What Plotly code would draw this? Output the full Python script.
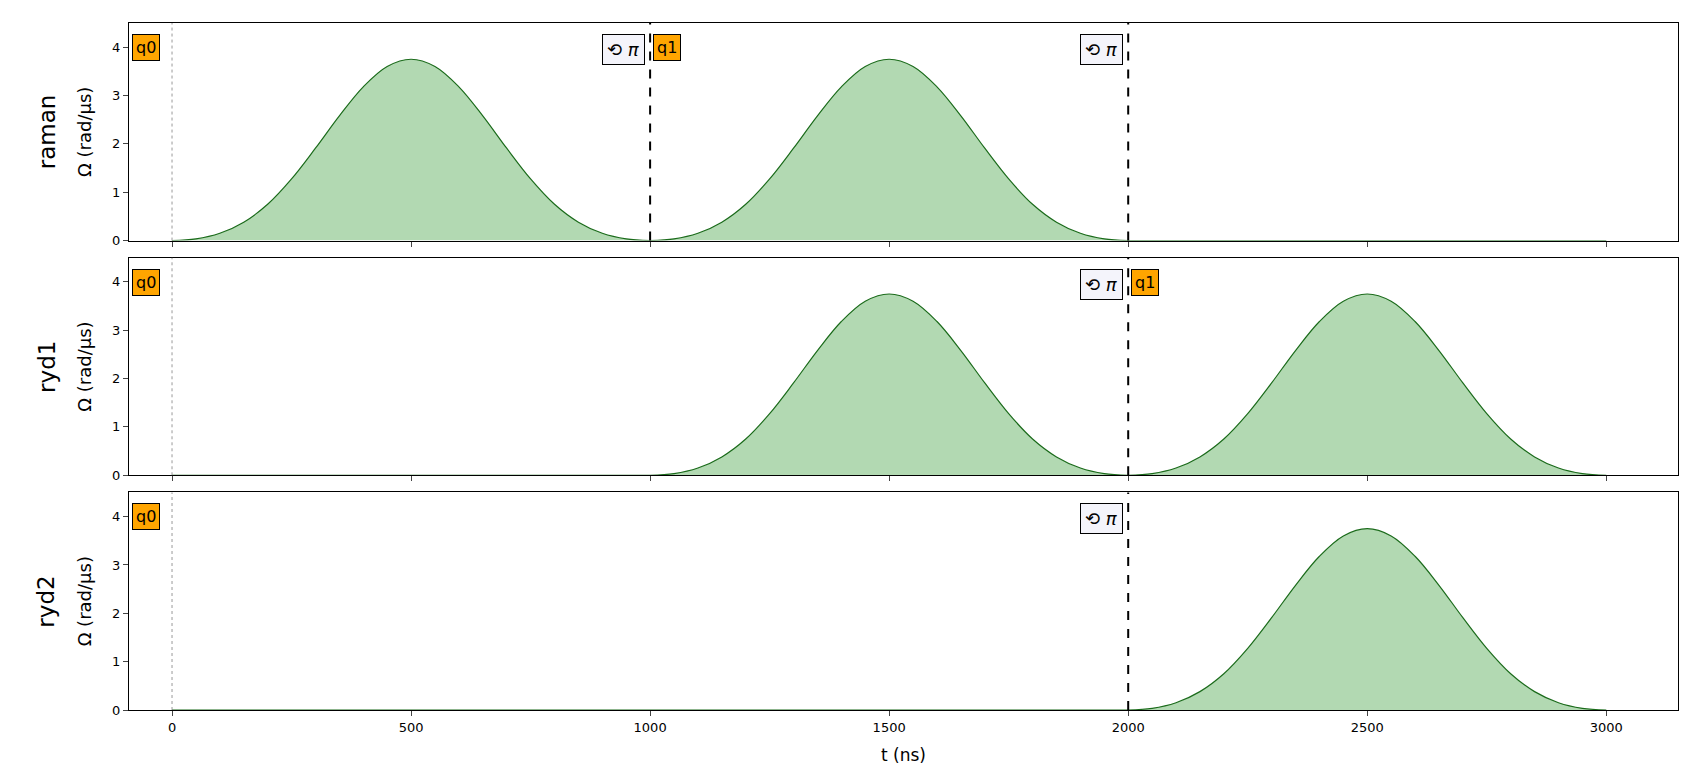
import plotly.graph_objects as go
from plotly.subplots import make_subplots

channels = ["raman", "ryd1", "ryd2"]
pulse_offsets = [0, 50, 100, 150, 200, 250, 300, 350, 400, 450, 500, 550, 600, 650, 700, 750, 800, 850, 900, 950, 1000]
pulse_values = [0.0, 0.035, 0.15, 0.38, 0.75, 1.275, 1.91, 2.58, 3.18, 3.60, 3.75, 3.60, 3.18, 2.58, 1.91, 1.275, 0.75, 0.38, 0.15, 0.035, 0.0]
pulse_starts = {"raman": [0, 1000], "ryd1": [1000, 2000], "ryd2": [2000]}
seq_end = 3000
target_marks = {"raman": [(0, "q0"), (1000, "q1")], "ryd1": [(0, "q0"), (2000, "q1")], "ryd2": [(0, "q0")]}
phase_marks = {"raman": [1000, 2000], "ryd1": [2000], "ryd2": [2000]}

fig = make_subplots(rows=3, cols=1, shared_xaxes=False, vertical_spacing=0.025)
green = "#1b6b1b"
for i, ch in enumerate(channels, start=1):
    xs, ys = [], []
    t = 0
    for s in sorted(pulse_starts[ch]):
        if s > t:
            xs += [t, s]; ys += [0, 0]
        xs += [s + o for o in pulse_offsets]; ys += pulse_values
        t = s + 1000
    if t < seq_end:
        xs += [t, seq_end]; ys += [0, 0]
    fig.add_trace(go.Scatter(x=xs, y=ys, mode="lines", line=dict(color=green, width=1.2, shape="spline"),
                             fill="tozeroy", fillcolor="rgba(0,128,0,0.3)", showlegend=False, hoverinfo="skip"), row=i, col=1)
    xr = "x" if i == 1 else f"x{i}"
    yr = "y" if i == 1 else f"y{i}"
    fig.add_shape(type="line", x0=0, x1=0, y0=0, y1=1, xref=xr, yref=f"{yr} domain",
                  line=dict(color="gray", width=0.8, dash="dot"))
    for pm in phase_marks[ch]:
        fig.add_shape(type="line", x0=pm, x1=pm, y0=0, y1=1, xref=xr, yref=f"{yr} domain",
                      line=dict(color="black", width=2, dash="dash"))
        fig.add_annotation(x=pm, y=0.95, xref=xr, yref=f"{yr} domain", text="⟲ <i>π</i>", showarrow=False,
                           xanchor="right", xshift=-5, font=dict(size=18, color="black"),
                           bgcolor="#f4f4fb", bordercolor="black", borderwidth=1, borderpad=4)
    for tm, lab in target_marks[ch]:
        fig.add_annotation(x=tm, y=0.95, xref=xr, yref=f"{yr} domain", text=lab, showarrow=False,
                           xanchor="left" if tm > 0 else "center", xshift=3 if tm > 0 else -26,
                           font=dict(size=16, color="black"),
                           bgcolor="orange", bordercolor="black", borderwidth=1, borderpad=3)
    fig.add_annotation(x=-0.063, y=0.5, xref="paper", yref=f"{yr} domain", text=ch, textangle=-90,
                       showarrow=False, font=dict(size=23, color="black"))
    fig.update_yaxes(row=i, col=1, range=[0, 4.5], tickvals=[0, 1, 2, 3, 4], ticks="outside",
                     title=dict(text="Ω (rad/µs)", font=dict(size=18)), showgrid=False,
                     showline=True, mirror=True, linecolor="black", zeroline=False)
    fig.update_xaxes(row=i, col=1, range=[-90, 3150], tickvals=[0, 500, 1000, 1500, 2000, 2500, 3000],
                     showticklabels=(i == 3), ticks="outside", showgrid=False, showline=True, mirror=True,
                     linecolor="black", zeroline=False)
fig.update_xaxes(row=3, col=1, title=dict(text="t (ns)", font=dict(size=17)))
fig.update_layout(width=1692, height=765, margin=dict(l=121, r=22, t=15, b=57),
                  plot_bgcolor="white", paper_bgcolor="white",
                  font=dict(family="DejaVu Sans", size=13, color="black"))
fig.write_html("out.html")
